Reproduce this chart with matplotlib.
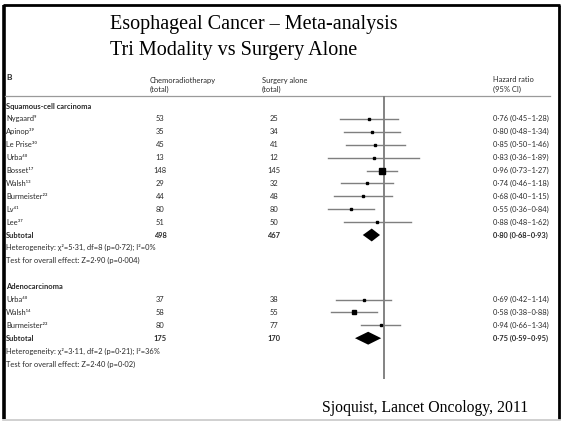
import numpy as np
import matplotlib
matplotlib.use('Agg')
import matplotlib.pyplot as plt
from matplotlib import transforms

# ---- data ----
title_lines = ['Esophageal Cancer \u2013 Meta-analysis', 'Tri Modality vs Surgery Alone']
source = 'Sjoquist, Lancet Oncology, 2011'

sq_names = ['Nygaard', 'Apinop', 'Le Prise', 'Urba', 'Bosset', 'Walsh', 'Burmeister', 'Lv', 'Lee']
sq_refs = ['\u2079', '\u00b3\u2079', '\u00b3\u2070', '\u2074\u2070', '\u00b9\u2077', '\u00b9\u00b3', '\u00b2\u00b2', '\u2074\u00b9', '\u00b3\u2077']
sq_crt = [53, 35, 45, 13, 148, 29, 44, 80, 51]
sq_surg = [25, 34, 41, 12, 145, 32, 48, 80, 50]
sq_hr = [0.76, 0.80, 0.85, 0.83, 0.96, 0.74, 0.68, 0.55, 0.88]
sq_lo = [0.45, 0.48, 0.50, 0.36, 0.73, 0.46, 0.40, 0.36, 0.48]
sq_hi = [1.28, 1.34, 1.46, 1.89, 1.27, 1.18, 1.15, 0.84, 1.62]
sq_weight = [7, 7, 7, 6, 28, 7, 7, 7, 7]
sq_total = (498, 467, 0.80, 0.68, 0.93)
sq_het = 'Heterogeneity: \u03c7\u00b2=5\u00b731, df=8 (p=0\u00b772); I\u00b2=0%'
sq_test = 'Test for overall effect: Z=2\u00b790 (p=0\u00b7004)'

ad_names = ['Urba', 'Walsh', 'Burmeister']
ad_refs = ['\u2074\u2070', '\u00b9\u2074', '\u00b2\u00b2']
ad_crt = [37, 58, 80]
ad_surg = [38, 55, 77]
ad_hr = [0.69, 0.58, 0.94]
ad_lo = [0.42, 0.38, 0.66]
ad_hi = [1.14, 0.88, 1.34]
ad_weight = [7, 8, 7]
ad_total = (175, 170, 0.75, 0.59, 0.95)
ad_het = 'Heterogeneity: \u03c7\u00b2=3\u00b711, df=2 (p=0\u00b721); I\u00b2=36%'
ad_test = 'Test for overall effect: Z=2\u00b740 (p=0\u00b702)'


def fmt(v):
    return ('%.2f' % v).replace('.', '\u00b7')


def hr_label(h, lo, hi):
    return '%s (%s\u2013%s)' % (fmt(h), fmt(lo), fmt(hi))


W, H = 564, 424
fig = plt.figure(figsize=(W / 100, H / 100), dpi=100)
fig.patch.set_facecolor('white')

# background axes in pixel units for the slide frame and headers
bg = fig.add_axes([0, 0, 1, 1])
bg.set_xlim(0, W)
bg.set_ylim(H, 0)
bg.axis('off')

# slide frame
bg.plot([4, 4], [5, 419], color='black', lw=2.6, solid_capstyle='butt')
bg.plot([3, 560], [5, 5], color='black', lw=2.0, solid_capstyle='butt')
bg.plot([559, 559], [5, 419], color='black', lw=2.0, solid_capstyle='butt')
bg.plot([3, 560], [420, 420], color='#c8c8c8', lw=1.2)

bg.text(110, 25, title_lines[0], fontsize=14.5, family='Liberation Serif', va='center', ha='left')
bg.text(110, 51, title_lines[1], fontsize=14.5, family='Liberation Serif', va='center', ha='left')
bg.text(322, 408, source, fontsize=11.3, family='Liberation Serif', va='center', ha='left')

sans = ['Lato', 'DejaVu Sans']
fs = 5.4
tc = '#2a2a2a'

bg.text(6, 77, 'B', fontsize=6, family=sans, weight='bold', va='center', color=tc)
bg.text(150, 80, 'Chemoradiotherapy', fontsize=fs, family=sans, va='center', color=tc)
bg.text(150, 89, '(total)', fontsize=fs, family=sans, va='center', color=tc)
bg.text(262, 80, 'Surgery alone', fontsize=fs, family=sans, va='center', color=tc)
bg.text(262, 89, '(total)', fontsize=fs, family=sans, va='center', color=tc)
bg.text(493, 80, 'Hazard ratio', fontsize=fs, family=sans, va='center', color=tc)
bg.text(493, 89, '(95% CI)', fontsize=fs, family=sans, va='center', color=tc)
bg.plot([5, 550], [96, 96], color='#9a9a9a', lw=0.9)

# forest axes: log scale, HR=1 at x=384 px, 55 px per ln unit
row_px, row0_px = 12.9, 106
ax_l, ax_r, ax_t, ax_b = 300, 480, 96, 379
x0, px_ln = 384, 55.0
ax = fig.add_axes([ax_l / W, 1 - ax_b / H, (ax_r - ax_l) / W, (ax_b - ax_t) / H])
ax.set_xscale('log')
ax.set_xlim(np.exp((ax_l - x0) / px_ln), np.exp((ax_r - x0) / px_ln))
ax.set_ylim((ax_b - row0_px) / row_px, (ax_t - row0_px) / row_px)
ax.axis('off')
ax.axvline(1, color='#7a7a7a', lw=1.3)

# text rows follow the forest rows
tr = transforms.blended_transform_factory(bg.transData, ax.transData)


def draw_group(start, header, names, refs, crt, surg, hr, lo, hi, weight, total, het, test):
    kw = dict(transform=tr, fontsize=fs, family=sans, va='center', color=tc)
    bg.text(6, start, header, weight='bold', **kw)
    rows = np.arange(len(names)) + start + 1
    for r, n, rf, c, s, h, l, u, w in zip(rows, names, refs, crt, surg, hr, lo, hi, weight):
        bg.text(6, r, n + rf, **kw)
        bg.text(160, r, str(c), ha='center', **kw)
        bg.text(274, r, str(s), ha='center', **kw)
        bg.text(493, r, hr_label(h, l, u), **kw)
        ax.plot([l, u], [r, r], color='#7f7f7f', lw=1.0, zorder=2)
        ax.plot(h, r, marker='s', color='black', markersize=0.8 * np.sqrt(w), zorder=3)
    sub = start + len(names) + 1
    tc_, ts_, th, tl, tu = total
    bg.text(6, sub, 'Subtotal', weight='bold', **kw)
    bg.text(160, sub, str(tc_), ha='center', weight='bold', **kw)
    bg.text(274, sub, str(ts_), ha='center', weight='bold', **kw)
    bg.text(493, sub, hr_label(th, tl, tu), weight='bold', **kw)
    ax.fill([tl, th, tu, th], [sub, sub - 0.5, sub, sub + 0.5], color='black', lw=0, zorder=3)
    bg.text(6, sub + 1, het, **kw)
    bg.text(6, sub + 2, test, **kw)


draw_group(0, 'Squamous-cell carcinoma', sq_names, sq_refs, sq_crt, sq_surg,
           sq_hr, sq_lo, sq_hi, sq_weight, sq_total, sq_het, sq_test)
draw_group(14, 'Adenocarcinoma', ad_names, ad_refs, ad_crt, ad_surg,
           ad_hr, ad_lo, ad_hi, ad_weight, ad_total, ad_het, ad_test)

fig.savefig('out.png', dpi=100)
